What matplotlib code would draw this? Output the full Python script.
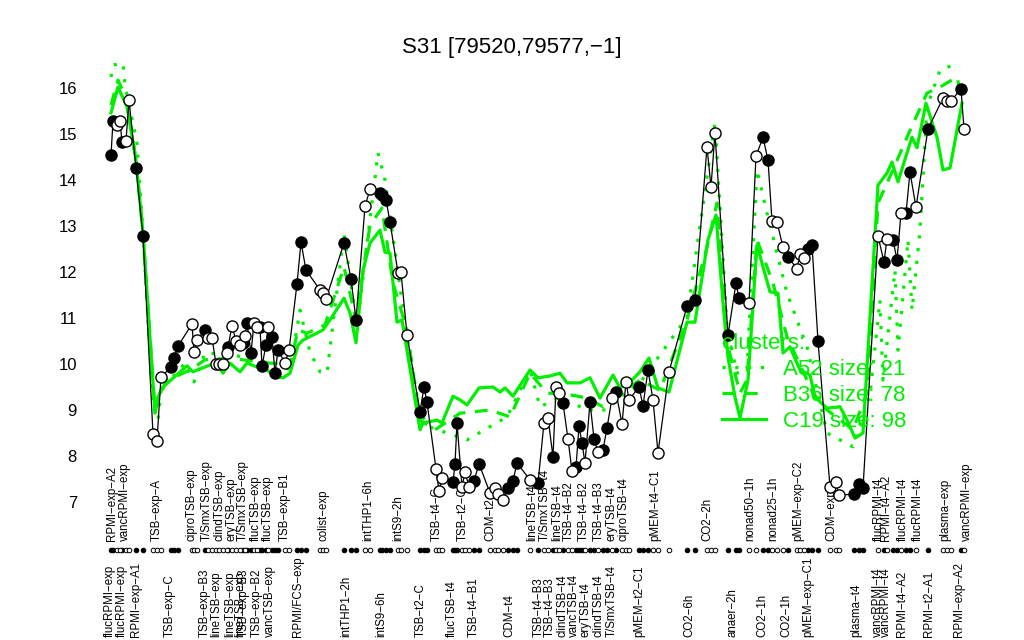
import matplotlib
matplotlib.use('Agg')
import matplotlib.pyplot as plt

plt.rcParams['font.family'] = ['Liberation Sans', 'DejaVu Sans']

# ---- data ----
title = 'S31 [79520,79577,−1]'

# sample positions along the x axis and the probe signal
pos = [111, 113, 117, 120, 122, 126, 129, 136, 143, 153,
       157, 161, 171, 174, 178, 192, 194, 197, 205, 208,
       212, 216, 219, 223, 227, 228, 232, 236, 240, 243,
       245, 247, 251, 254, 257, 260, 262, 266, 268, 272,
       275, 278, 285, 289, 297, 301, 306, 320, 323, 326,
       344, 351, 356, 365, 370, 380, 382, 386, 390, 398,
       401, 407, 420, 424, 427, 436, 439, 442, 453, 455,
       457, 462, 465, 469, 474, 479, 490, 495, 498, 503,
       508, 513, 517, 530, 538, 544, 548, 553, 556, 559,
       563, 568, 572, 576, 579, 582, 585, 590, 594, 598,
       603, 607, 612, 616, 622, 626, 629, 639, 643, 648,
       653, 658, 669, 687, 695, 707, 711, 715, 728, 736,
       739, 749, 756, 763, 768, 772, 777, 783, 788, 797,
       800, 804, 808, 812, 818, 830, 836, 839, 854, 859,
       863, 878, 884, 887, 893, 897, 901, 906, 910, 916,
       928, 943, 947, 951, 961, 964]

signal = [14.54, 15.28, 15.2, 15.28, 14.83, 14.85, 15.74, 14.26, 12.78, 8.48,
          8.33, 9.72, 9.93, 10.13, 10.39, 10.87, 10.26, 10.52, 10.74, 10.57,
          10.57, 10.0, 10.0, 10.0, 10.24, 10.37, 10.83, 10.5, 10.41, 10.46,
          10.61, 10.89, 10.24, 10.89, 10.8, 10.8, 9.96, 10.41, 10.8, 10.59,
          9.8, 10.3, 10.02, 10.3, 11.74, 12.65, 12.04, 11.61, 11.54, 11.41,
          12.63, 11.85, 10.96, 13.43, 13.8, 13.72, 13.67, 13.57, 13.09, 11.98,
          12.0, 10.63, 8.96, 9.5, 9.17, 7.72, 7.24, 7.52, 7.43, 7.83,
          8.72, 7.33, 7.65, 7.33, 7.46, 7.83, 7.2, 7.3, 7.17, 7.04,
          7.3, 7.46, 7.85, 7.48, 7.41, 8.72, 8.83, 7.98, 9.5, 9.37,
          9.15, 8.37, 7.67, 7.76, 8.65, 8.28, 7.85, 9.17, 8.37, 8.09,
          8.13, 8.61, 9.26, 9.39, 8.7, 9.61, 9.22, 9.5, 9.09, 9.87,
          9.22, 8.07, 9.83, 11.26, 11.39, 14.72, 13.85, 15.02, 10.63, 11.76,
          11.43, 11.33, 14.52, 14.93, 14.43, 13.11, 13.09, 12.54, 12.33, 12.07,
          12.39, 12.3, 12.5, 12.59, 10.5, 7.33, 7.43, 7.15, 7.17, 7.39,
          7.3, 12.78, 12.22, 12.72, 12.7, 12.26, 13.28, 13.28, 14.17, 13.41,
          15.11, 15.78, 15.72, 15.72, 15.98, 15.11]

# 1 = filled marker, 0 = open marker
filled = [1, 1, 0, 0, 1, 0, 0, 1, 1, 0,
          0, 0, 1, 1, 1, 0, 0, 0, 1, 0,
          0, 0, 0, 0, 0, 1, 0, 0, 0, 1,
          0, 1, 1, 0, 0, 1, 1, 1, 0, 1,
          1, 1, 0, 0, 1, 1, 1, 0, 0, 0,
          1, 1, 1, 0, 0, 1, 1, 1, 1, 0,
          0, 0, 1, 1, 1, 0, 0, 0, 1, 1,
          1, 0, 0, 0, 1, 1, 0, 0, 0, 0,
          1, 1, 1, 0, 1, 0, 0, 1, 0, 0,
          1, 0, 0, 1, 1, 1, 0, 1, 1, 0,
          1, 1, 0, 1, 0, 0, 0, 1, 1, 1,
          0, 0, 0, 1, 1, 0, 0, 0, 1, 1,
          1, 0, 0, 1, 1, 0, 0, 0, 1, 0,
          0, 0, 1, 1, 1, 0, 0, 0, 1, 1,
          1, 0, 1, 0, 1, 1, 0, 1, 1, 0,
          1, 0, 0, 0, 1, 0]

# cluster mean profiles
a52_pos = [111, 113, 123, 125, 137, 143, 153, 158, 162, 170, 185, 194, 205, 233, 253,
           275, 290, 300, 310, 320, 327, 344, 357, 378, 385, 407, 420, 430, 467, 507,
           530, 540, 560, 587, 607, 620, 640, 687, 707, 715, 727, 737, 747, 757, 767,
           787, 807, 827, 853, 870, 880, 883, 895, 898, 908, 912, 920, 927, 940, 958]
a52_val = [16.24, 16.5, 16.54, 16.07, 14.8, 12.85, 9.15, 8.78, 9.65, 9.65, 10.02, 9.61, 10.24, 10.2, 10.09,
           10.02, 9.87, 11.17, 10.26, 9.83, 9.8, 12.85, 10.8, 14.59, 14.0, 10.59, 8.93, 8.63, 8.35, 8.85,
           9.87, 9.07, 9.28, 9.0, 9.0, 9.28, 9.59, 11.02, 14.07, 15.24, 10.8, 9.8, 9.87, 14.22, 13.28,
           11.54, 10.37, 8.5, 8.2, 9.33, 11.39, 9.65, 12.04, 10.3, 12.7, 11.17, 12.91, 15.59, 16.39, 16.54]

b36_pos = [111, 118, 127, 136, 143, 155, 160, 167, 173, 190, 205, 230, 260, 290, 298,
           307, 325, 344, 356, 370, 382, 393, 407, 420, 435, 460, 490, 510, 530, 547,
           570, 587, 603, 620, 640, 660, 687, 707, 717, 727, 740, 747, 757, 773, 787,
           813, 827, 853, 867, 878, 893, 907, 927, 940, 957, 962]
b36_val = [15.63, 16.17, 15.74, 14.43, 12.85, 9.0, 9.33, 9.65, 9.7, 9.87, 10.09, 10.13, 10.04, 9.98, 10.74,
           10.67, 10.85, 12.11, 10.96, 13.02, 13.39, 11.76, 10.74, 8.78, 8.57, 8.93, 9.0, 8.85, 9.8, 9.37,
           9.33, 9.26, 9.07, 9.37, 9.65, 9.43, 10.96, 12.54, 13.5, 10.46, 9.37, 9.65, 12.7, 11.76, 10.59,
           9.37, 9.0, 8.57, 9.37, 13.5, 14.22, 14.93, 15.89, 16.02, 16.24, 15.74]

c19_pos = [111, 118, 127, 136, 143, 155, 158, 162, 187, 193, 217, 223, 230, 240, 247,
           260, 267, 275, 283, 290, 298, 303, 323, 330, 344, 350, 356, 363, 370, 380,
           385, 390, 397, 402, 420, 423, 437, 442, 453, 460, 467, 479, 493, 500, 505,
           513, 530, 538, 550, 560, 567, 580, 590, 600, 613, 620, 632, 640, 649, 658,
           669, 687, 695, 708, 716, 723, 728, 735, 740, 748, 757, 763, 770, 778, 783,
           790, 800, 810, 815, 827, 840, 847, 855, 863, 878, 887, 892, 898, 907, 912,
           917, 926, 932, 937, 943, 950, 962]
c19_val = [15.46, 16.02, 15.59, 14.43, 12.85, 8.93, 9.28, 9.48, 9.96, 9.83, 10.04, 9.8, 10.02, 9.83, 10.02,
           9.91, 9.87, 9.74, 9.7, 9.8, 10.41, 10.52, 10.74, 10.96, 11.43, 11.11, 10.46, 12.04, 12.63, 12.91,
           12.43, 12.41, 10.91, 10.96, 8.57, 8.72, 8.78, 8.72, 9.3, 9.22, 9.11, 9.48, 9.5, 9.39, 9.48,
           9.3, 9.87, 9.7, 9.74, 9.8, 9.59, 9.59, 9.7, 9.26, 9.76, 9.48, 9.65, 9.83, 10.13, 9.48,
           9.39, 10.91, 10.91, 12.7, 13.24, 11.33, 10.15, 9.28, 8.83, 9.65, 12.59, 12.11, 11.57, 11.54, 10.24,
           10.37, 9.87, 9.76, 9.28, 9.04, 9.07, 8.78, 8.39, 8.5, 13.89, 14.15, 14.39, 13.96, 14.59, 14.93,
           14.7, 15.67, 15.26, 14.93, 14.22, 14.26, 15.67]

cluster_names = ['A52 size: 21', 'B36 size: 78', 'C19 size: 98']

# condition labels, upper row and lower row
top_labels = [('RPMI−exp−A2', 112), ('vancRPMI−exp', 125), ('TSB−exp−A', 157), ('ciproTSB−exp', 191),
              ('T/SmxTSB−exp', 207), ('clindTSB−exp', 219), ('eryTSB−exp', 232), ('T/SmxTSB−exp', 243),
              ('flucTSB−exp', 256), ('flucTSB−exp', 268), ('TSB−exp−B1', 285), ('colist−exp', 323),
              ('intTHP1−6h', 368), ('intS9−2h', 398), ('TSB−t4−C', 437), ('TSB−t2−C', 463),
              ('CDM−t2', 490), ('lineTSB−t4', 532), ('T/SmxTSB−t4', 545), ('lineTSB−t4', 557),
              ('TSB−t4−B2', 569), ('TSB−t4−B2', 584), ('TSB−t4−B3', 599), ('eryTSB−t4', 612),
              ('ciproTSB−t4', 624), ('pMEM−t4−C1', 655), ('CO2−2h', 707), ('nonad50−1h', 750),
              ('nonad25−1h', 773), ('pMEM−exp−C2', 798), ('CDM−exp', 831), ('flucRPMI−t4', 879),
              ('RPMI−t4−A2', 886), ('flucRPMI−t4', 903), ('flucRPMI−t4', 918), ('plasma−exp', 945),
              ('vancRPMI−exp', 967)]
bottom_labels = [('flucRPMI−exp', 110), ('flucRPMI−exp', 122), ('RPMI−exp−A1', 136), ('TSB−exp−C', 170),
                 ('TSB−exp−B3', 205), ('lineTSB−exp', 216), ('lineTSB−exp', 230), ('lineTSB−exp', 240),
                 ('TSB−exp−B3', 244), ('TSB−exp−B2', 257), ('vancTSB−exp', 270), ('RPMI/FCS−exp', 298),
                 ('intTHP1−2h', 346), ('intS9−6h', 381), ('TSB−t2−C', 421), ('flucTSB−t4', 452),
                 ('TSB−t4−B1', 474), ('CDM−t4', 509), ('TSB−t4−B3', 539), ('TSB−t4−B3', 550),
                 ('clindTSB−t4', 562), ('vancTSB−t4', 574), ('eryTSB−t4', 586), ('clindTSB−t4', 599),
                 ('T/SmxTSB−t4', 612), ('pMEM−t2−C1', 639), ('CO2−6h', 689), ('anaer−2h', 732),
                 ('CO2−1h', 762), ('CO2−1h', 786), ('pMEM−exp−C1', 808), ('plasma−t4', 856),
                 ('vancRPMI−t4', 878), ('vancRPMI−t4', 886), ('RPMI−t4−A2', 902), ('RPMI−t2−A1', 929),
                 ('RPMI−exp−A2', 959)]

# ---- plot ----
green = '#00EE00'

fig = plt.figure(figsize=(10.24, 6.4), dpi=100)
ax = fig.add_axes([40 / 1024, 1 - 513.5 / 640, 960 / 1024, 473.8 / 640])
ax.set_xlim(40, 1000)
ax.set_ylim(6.75, 17.05)

hA, = ax.plot(a52_pos, a52_val, color=green, lw=2.3, dashes=(1, 3), zorder=2)
hB, = ax.plot(b36_pos, b36_val, color=green, lw=2.3, dashes=(4, 3), zorder=2)
hC, = ax.plot(c19_pos, c19_val, color=green, lw=2.3, zorder=2)

ax.plot(pos, signal, color='black', lw=0.9, zorder=3)
x_f = [p for p, f in zip(pos, filled) if f]
y_f = [v for v, f in zip(signal, filled) if f]
x_o = [p for p, f in zip(pos, filled) if not f]
y_o = [v for v, f in zip(signal, filled) if not f]
ax.plot(x_f, y_f, 'o', ms=8, mfc='black', mec='black', mew=1, zorder=4)
ax.plot(x_o, y_o, 'o', ms=8, mfc='white', mec='black', mew=1, zorder=4)

# row of small markers under the plot
ax.plot(x_f, [5.96] * len(x_f), 'o', ms=3.3, mfc='black', mec='black', mew=0.7, clip_on=False)
ax.plot(x_o, [5.96] * len(x_o), 'o', ms=3.3, mfc='white', mec='black', mew=0.7, clip_on=False)

for lab, p in top_labels:
    ax.text(p, 6.15, lab, rotation=90, ha='center', va='bottom', fontsize=8.3, zorder=1)
for lab, p in bottom_labels:
    ax.text(p, 4.07, lab, rotation=90, ha='center', va='bottom', fontsize=8.3, zorder=1)

# axes like R: only y labels
for s in ['top', 'right', 'bottom']:
    ax.spines[s].set_visible(False)
ax.spines['left'].set_position(('data', 88))
ax.spines['left'].set_color('none')
ax.set_yticks(range(7, 17))
ax.tick_params(axis='y', length=0, pad=8, labelsize=12)
ax.set_xticks([])

fig.text(0.5, 1 - 47 / 640, title, ha='center', va='center', fontsize=16)

leg = ax.legend([hA, hB, hC], cluster_names, loc='upper left',
                bbox_to_anchor=(722 / 1024, 1 - 333 / 640), bbox_transform=fig.transFigure,
                frameon=False, title='clusters:', fontsize=16, title_fontsize=16,
                alignment='left', handlelength=2.0, handletextpad=0.75, labelspacing=0.22,
                borderpad=0, borderaxespad=0)
for t in leg.get_texts():
    t.set_color(green)
leg.get_title().set_color(green)

plt.savefig('out.png', dpi=100)
